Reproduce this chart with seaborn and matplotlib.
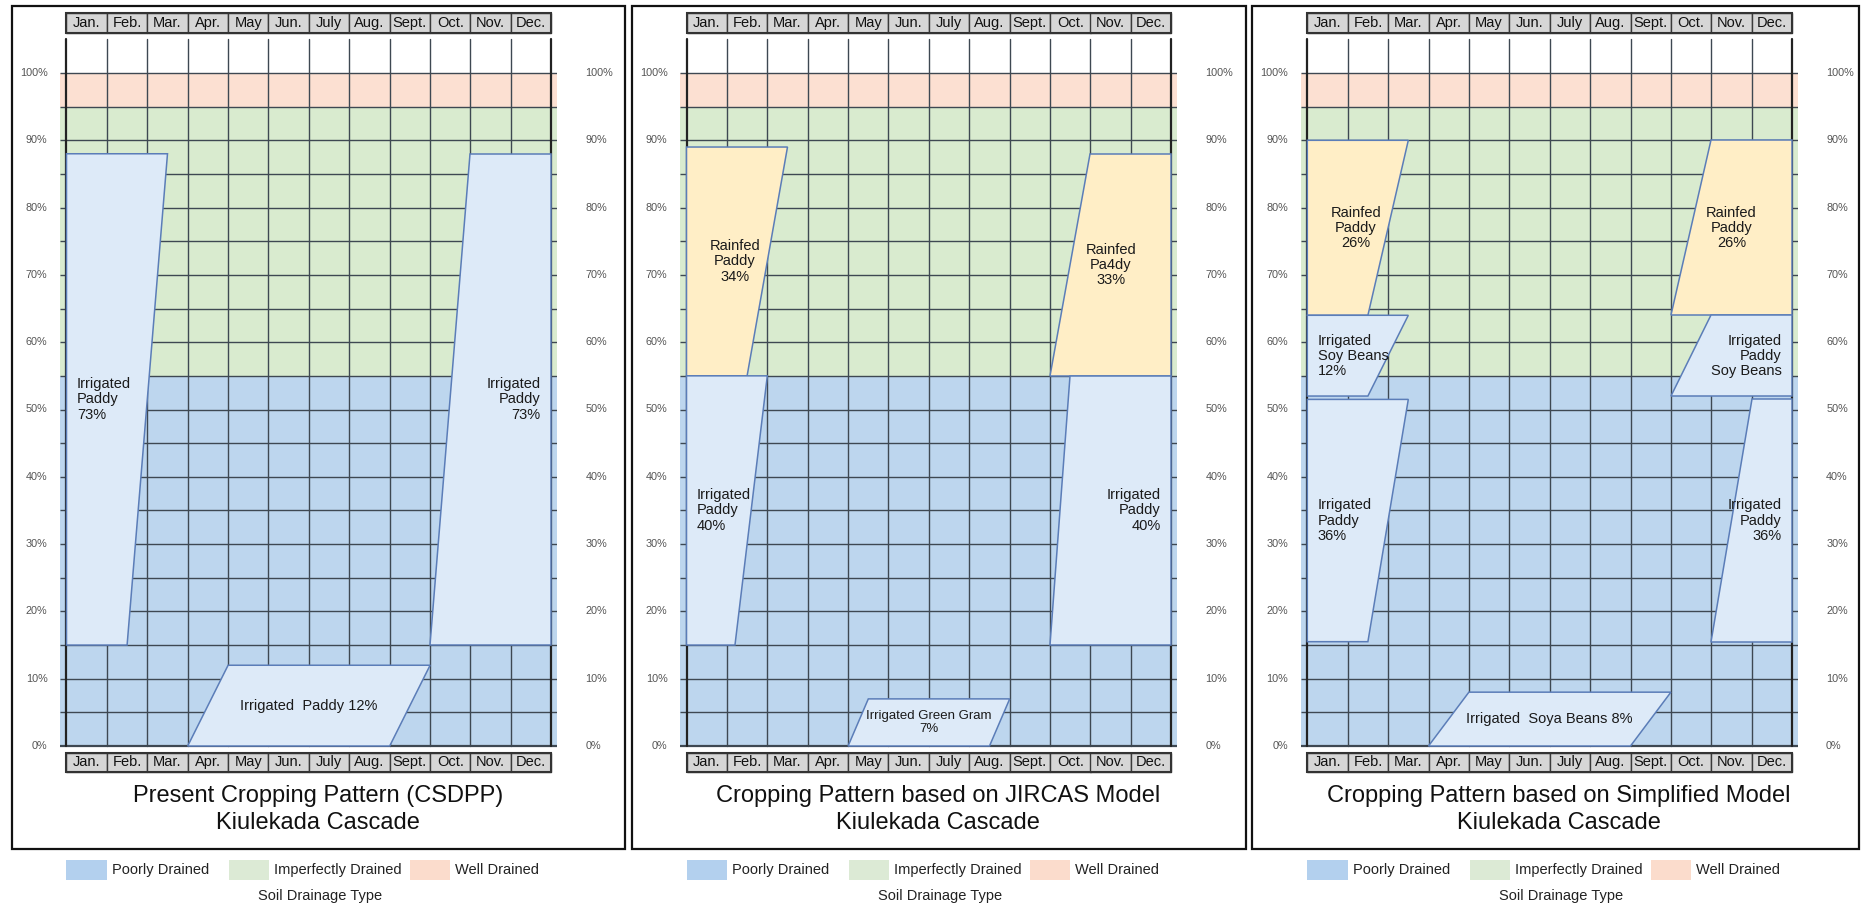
import matplotlib
matplotlib.use("Agg")
import matplotlib.pyplot as plt
from matplotlib.patches import Polygon, Rectangle
import seaborn as sns

# ---------------------------------------------------------------- data
months = ["Jan.", "Feb.", "Mar.", "Apr.", "May", "Jun.", "July", "Aug.",
          "Sept.", "Oct.", "Nov.", "Dec."]
pct_ticks = [0, 10, 20, 30, 40, 50, 60, 70, 80, 90, 100]

drainage_types = ["Poorly Drained", "Imperfectly Drained", "Well Drained"]
drainage_low = [0, 55, 95]
drainage_high = [55, 95, 100]

panel_titles = [
    "Present Cropping Pattern (CSDPP)\nKiulekada Cascade",
    "Cropping Pattern based on JIRCAS Model\nKiulekada Cascade",
    "Cropping Pattern based on Simplified Model\nKiulekada Cascade",
]

# Each crop block: share of area (%) stacked from a base level (%),
# planted between the months given at its lower and upper edge.
present_labels = ["Irrigated\nPaddy\n73%", "Irrigated\nPaddy\n73%", "Irrigated  Paddy 12%"]
present_kind = ["irrigated", "irrigated", "irrigated"]
present_base = [15, 15, 0]
present_share = [73, 73, 12]
present_low_months = [(0, 1.5), (9, 12), (3, 8)]
present_high_months = [(0, 2.5), (10, 12), (4, 9)]

jircas_labels = ["Rainfed\nPaddy\n34%", "Rainfed\nPa4dy\n33%", "Irrigated\nPaddy\n40%",
                 "Irrigated\nPaddy\n40%", "Irrigated Green Gram\n7%"]
jircas_kind = ["rainfed", "rainfed", "irrigated", "irrigated", "irrigated"]
jircas_base = [55, 55, 15, 15, 0]
jircas_share = [34, 33, 40, 40, 7]
jircas_low_months = [(0, 1.5), (9, 12), (0, 1.2), (9, 12), (4, 7.5)]
jircas_high_months = [(0, 2.5), (10, 12), (0, 2.0), (9.5, 12), (4.5, 8)]

simple_labels = ["Rainfed\nPaddy\n26%", "Rainfed\nPaddy\n26%", "Irrigated\nSoy Beans\n12%",
                 "Irrigated\nPaddy\nSoy Beans", "Irrigated\nPaddy\n36%",
                 "Irrigated\nPaddy\n36%", "Irrigated  Soya Beans 8%"]
simple_kind = ["rainfed", "rainfed", "irrigated", "irrigated", "irrigated",
               "irrigated", "irrigated"]
simple_base = [64, 64, 52, 52, 15.5, 15.5, 0]
simple_share = [26, 26, 12, 12, 36, 36, 8]
simple_low_months = [(0, 1.5), (9, 12), (0, 1.5), (9, 12), (0, 1.5), (10, 12), (3, 8)]
simple_high_months = [(0, 2.5), (10, 12), (0, 2.5), (10, 12), (0, 2.5), (11, 12), (4, 9)]

# ---------------------------------------------------------------- layout / style
present_align = [("left", 0), ("right", 0), ("center", 0)]
jircas_align = [("center", 0.2), ("center", -0.25), ("left", 0), ("right", 0), ("center", 0)]
simple_align = [("center", 0.2), ("center", -0.25), ("left", 0), ("right", 0),
                ("left", 0), ("right", 0), ("center", 0)]

band_colors = ["#BDD6EE", "#D9EBCF", "#FCE0D2"]
legend_colors = ["#B3D0EE", "#DCEAD5", "#FBDCCC"]
crop_fill = {"irrigated": "#DDEAF8", "rainfed": "#FFEEC6"}
crop_edge = "#5B7DB8"
grid_color = "#3E4852"

W, H, DPI = 1861, 906, 100
MONTH_PX = 40.4
PCT_PX = 6.73
ZERO_Y = 746
JAN_X = [66.5, 686.5, 1307.3]
FRAMES = [(12, 625), (632, 1246), (1252, 1859)]
XMIN, XMAX = -0.15, 12.15
YMIN, YMAX = -4.2, 109.2

sns.set_theme(style="white")
plt.rcParams["font.family"] = ["Liberation Sans", "DejaVu Sans"]

fig = plt.figure(figsize=(W / DPI, H / DPI), dpi=DPI)
fig.patch.set_facecolor("white")

panels = [
    (present_labels, present_kind, present_base, present_share,
     present_low_months, present_high_months, present_align),
    (jircas_labels, jircas_kind, jircas_base, jircas_share,
     jircas_low_months, jircas_high_months, jircas_align),
    (simple_labels, simple_kind, simple_base, simple_share,
     simple_low_months, simple_high_months, simple_align),
]

for p, (labels, kinds, bases, shares, lows, highs, aligns) in enumerate(panels):
    # outer frame of the panel
    fx0, fx1 = FRAMES[p]
    fig.add_artist(Rectangle((fx0 / W, 1 - 849 / H), (fx1 - fx0) / W, (849 - 6) / H,
                             transform=fig.transFigure, fill=False,
                             edgecolor="#111111", linewidth=1.6))

    left_px = JAN_X[p] + XMIN * MONTH_PX
    width_px = (XMAX - XMIN) * MONTH_PX
    top_px = ZERO_Y - YMAX * PCT_PX
    bottom_px = ZERO_Y - YMIN * PCT_PX
    ax = fig.add_axes([left_px / W, 1 - bottom_px / H, width_px / W,
                       (bottom_px - top_px) / H])
    ax.set_xlim(XMIN, XMAX)
    ax.set_ylim(YMIN, YMAX)
    ax.set_axis_off()

    # soil drainage bands
    for lo, hi, col in zip(drainage_low, drainage_high, band_colors):
        ax.add_patch(Rectangle((XMIN, lo), XMAX - XMIN, hi - lo, facecolor=col,
                               edgecolor="none", zorder=1))

    # grid
    for k in range(0, 101, 5):
        ax.plot([XMIN, XMAX], [k, k], color=grid_color,
                lw=1.6 if k == 0 else 1.0, zorder=2, solid_capstyle="butt")
    for m in range(13):
        ax.plot([m, m], [0, 105], color="#222222" if m in (0, 12) else grid_color,
                lw=1.6 if m in (0, 12) else 1.0, zorder=2)

    # crop blocks
    for lab, kind, base, share, lo_m, hi_m, (align, dx) in zip(
            labels, kinds, bases, shares, lows, highs, aligns):
        top = base + share
        verts = [(lo_m[0], base), (lo_m[1], base), (hi_m[1], top), (hi_m[0], top)]
        ax.add_patch(Polygon(verts, closed=True, facecolor=crop_fill[kind],
                             edgecolor=crop_edge, linewidth=1.1, zorder=3))
        ymid = base + share / 2
        if align == "left":
            xt = min(lo_m[0], hi_m[0]) + 0.26 + dx
        elif align == "right":
            xt = max(lo_m[1], hi_m[1]) - 0.26 + dx
        else:
            xt = (lo_m[0] + hi_m[0] + lo_m[1] + hi_m[1]) / 4 + dx
        size = 9.5 if "Green Gram" in lab else 10.5
        ax.text(xt, ymid, lab, ha=align, va="center", multialignment=align,
                fontsize=size, color="#1a1a1a", zorder=4, linespacing=1.1)

    # month header rows (top and bottom)
    for y0 in (106.0, -3.9):
        for i, mname in enumerate(months):
            ax.add_patch(Rectangle((i, y0), 1, 2.9, facecolor="#D6D6D6",
                                   edgecolor="#3a3a3a", linewidth=1.0,
                                   zorder=5, clip_on=False))
            ax.text(i + 0.5, y0 + 1.45, mname, ha="center", va="center",
                    fontsize=10.5, color="#111111", zorder=6, clip_on=False)
        ax.add_patch(Rectangle((0, y0), 12, 2.9, fill=False, edgecolor="#333333",
                               linewidth=1.5, zorder=6, clip_on=False))

    # percentage labels on both sides
    for t in pct_ticks:
        ax.text(XMIN - 13 / MONTH_PX, t, f"{t}%", ha="right", va="center",
                fontsize=7.8, color="#555555", clip_on=False)
        ax.text(12 + 34 / MONTH_PX, t, f"{t}%", ha="left", va="center",
                fontsize=7.8, color="#555555", clip_on=False)

    # panel title
    ax.text(6.22, -9.4, panel_titles[p], ha="center", va="center", fontsize=17,
            color="#111111", linespacing=1.3, clip_on=False)

    # drainage legend
    sw_x = [0.0, 4.02, 8.5]
    for sx, name, col in zip(sw_x, drainage_types, legend_colors):
        ax.add_patch(Rectangle((sx, -19.9), 1.0, 3.0, facecolor=col,
                               edgecolor="none", clip_on=False))
        ax.text(sx + 1.12, -18.4, name, ha="left", va="center", fontsize=10.5,
                color="#222222", clip_on=False)
    ax.text(6.28, -22.3, "Soil Drainage Type", ha="center", va="center",
            fontsize=10.5, color="#222222", clip_on=False)

fig.savefig("out.png", dpi=DPI, facecolor="white")
